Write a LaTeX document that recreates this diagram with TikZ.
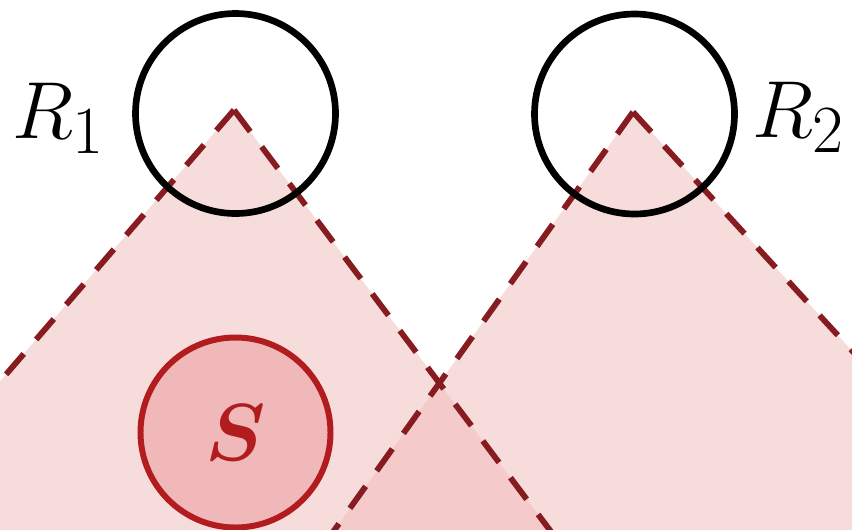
\documentclass[tikz,border=0pt]{standalone}
\usepackage{amsmath,amssymb}
\usepackage{xcolor}
\usepackage{tikz}
\usetikzlibrary{calc}

\definecolor{conered}{RGB}{135,28,32}
\definecolor{conepink}{RGB}{240,185,185}
\definecolor{srcred}{RGB}{178,28,30}
\definecolor{srcfill}{RGB}{240,184,184}

\begin{document}
\begin{tikzpicture}[
  receiver/.style={draw, circle, line width=3.8pt, minimum size=4cm, inner sep=0pt},
  source/.style={draw=srcred, fill=srcfill, circle, line width=3.4pt, minimum size=3.8cm, inner sep=0pt},
  coneedge/.style={draw=conered, line width=3.3pt, dash pattern=on 0.54cm off 0.38cm},
  conefill/.style={fill=conepink, fill opacity=0.5},
  rlabel/.style={inner sep=0pt, font=\Huge, scale=1.85}
]
  \useasboundingbox (0,0) rectangle (17.04,10.58);
  \clip (0,0) rectangle (17.04,10.58);

  % Cone apexes and far ends
  \coordinate (apex1) at (4.68,8.38);
  \coordinate (apex2) at (12.66,8.34);
  \coordinate (left1) at ($(apex1)+(-8,-9.28)$);
  \coordinate (right1) at ($(apex1)+(7,-9.31)$);
  \coordinate (left2) at ($(apex2)+(-7,-9.8)$);
  \coordinate (right2) at ($(apex2)+(8,-8.72)$);

  % Cones
  \fill[conefill] (apex1) -- (left1) -- (right1) -- cycle;
  \fill[conefill] (apex2) -- (left2) -- (right2) -- cycle;
  \draw[coneedge] (apex1) -- (left1);
  \draw[coneedge] (apex1) -- (right1);
  \draw[coneedge] (apex2) -- (left2);
  \draw[coneedge] (apex2) -- (right2);

  % Receivers
  \node[receiver] (rx1) at (4.71,8.31) {};
  \node[receiver] (rx2) at (12.69,8.30) {};
  \node[rlabel, anchor=base] (rlab1) at (1.18,7.82) {$R_1$};
  \node[rlabel, anchor=base] (rlab2) at (15.98,7.84) {$R_2$};

  % Source
  \node[source] (src) at (4.71,1.93) {};
  \node[rlabel, text=srcred] (srclab) at (src) {$\boldsymbol{S}$};
\end{tikzpicture}
\end{document}
